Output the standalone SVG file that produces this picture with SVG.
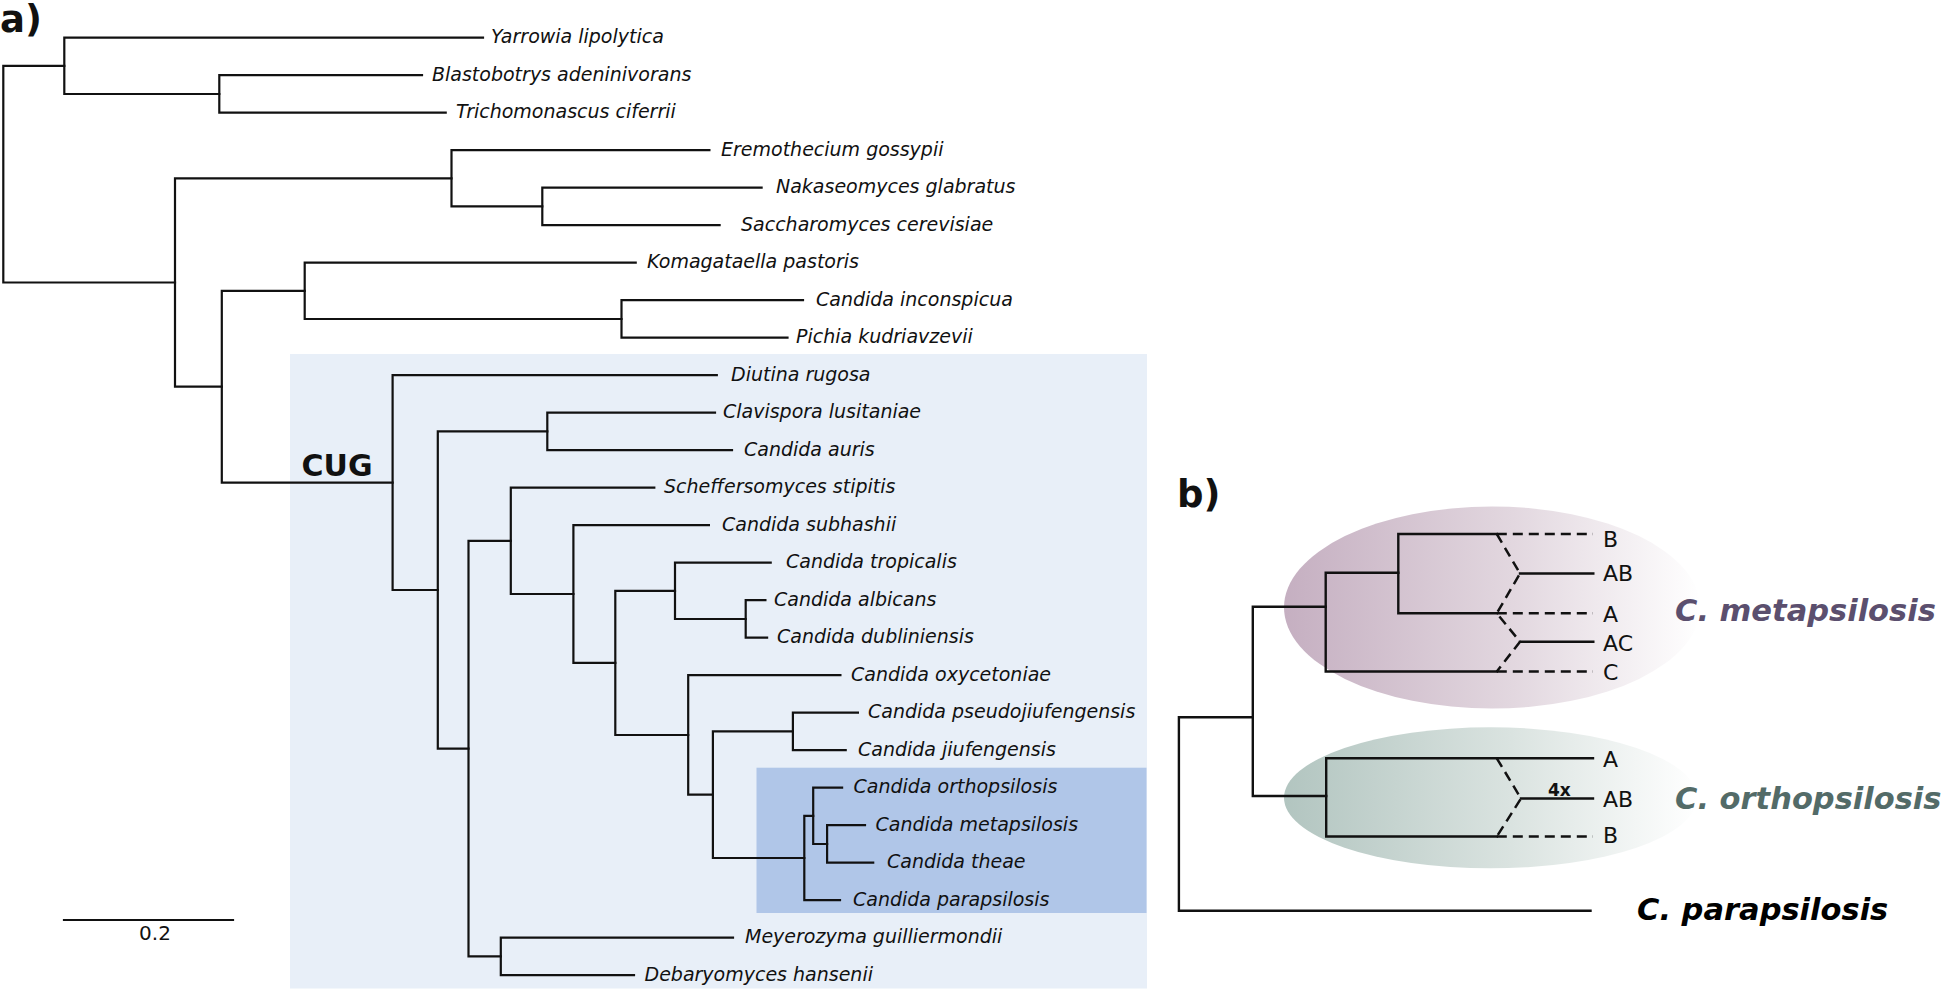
<svg xmlns="http://www.w3.org/2000/svg" width="1944" height="991" viewBox="0 0 1944 991">
<style>
.br{fill:none;stroke:#111;stroke-width:2.2;stroke-linecap:square}
.brb{fill:none;stroke:#111;stroke-width:2.4;stroke-linecap:square}
.dash{fill:none;stroke:#111;stroke-width:2.5;stroke-dasharray:10 6}
.leaf{font-family:"DejaVu Sans",Verdana,sans-serif;font-style:italic;font-size:19px;fill:#111}
.lab{font-family:"DejaVu Sans",Verdana,sans-serif;font-size:22px;fill:#111}
.big{font-family:"DejaVu Sans",Verdana,sans-serif;font-weight:bold;font-style:italic;font-size:30.5px}
.panel{font-family:"DejaVu Sans",Verdana,sans-serif;font-weight:bold;font-size:37px;fill:#111}
</style>
<defs>
<linearGradient id="gMeta" x1="0" y1="0" x2="1" y2="0">
<stop offset="0" stop-color="#C5AFC1"/>
<stop offset="0.55" stop-color="#E2D7DF"/>
<stop offset="1" stop-color="#FFFFFF"/>
</linearGradient>
<linearGradient id="gOrtho" x1="0" y1="0" x2="1" y2="0">
<stop offset="0" stop-color="#B2C5C0"/>
<stop offset="0.55" stop-color="#DAE3E0"/>
<stop offset="1" stop-color="#FFFFFF"/>
</linearGradient>
</defs>
<rect width="1944" height="991" fill="#FFFFFF"/>

<!-- panel a backgrounds -->
<g id="cug-box"><rect x="290" y="354" width="857" height="634.5" fill="#E8EFF8"/></g>
<g id="psilosis-box"><rect x="756.5" y="767.7" width="390" height="145.3" fill="#B0C6E8"/></g>

<text class="panel" x="0" y="32">a)</text>
<text class="panel" x="1177" y="506.7">b)</text>

<!-- panel a connectors -->
<g id="connectors">
<path class="br" d="M3.3 65.8V282.5M3.3 65.8H64.3M3.3 282.5H175"/>
<path class="br" d="M64.3 37.7V94M64.3 37.7H483M64.3 94H219.3"/>
<path class="br" d="M219.3 75.2V112.7M219.3 75.2H422M219.3 112.7H445.7"/>
<path class="br" d="M175 178.3V386.7M175 178.3H451.5M175 386.7H221.8"/>
<path class="br" d="M451.5 150.2V206.4M451.5 150.2H709.4M451.5 206.4H542.3"/>
<path class="br" d="M542.3 187.7V225.2M542.3 187.7H761.6M542.3 225.2H719.6"/>
<path class="br" d="M221.8 290.8V482.6M221.8 290.8H304.7M221.8 482.6H392.6"/>
<path class="br" d="M304.7 262.7V319M304.7 262.7H635.7M304.7 319H621.5"/>
<path class="br" d="M621.5 300.2V337.7M621.5 300.2H803M621.5 337.7H787.5"/>
<path class="br" d="M392.6 375.2V590M392.6 375.2H716.8M392.6 590H437.8"/>
<path class="br" d="M437.8 431.4V748.6M437.8 431.4H547.3M437.8 748.6H468.5"/>
<path class="br" d="M547.3 412.7V450.2M547.3 412.7H715M547.3 450.2H732"/>
<path class="br" d="M468.5 540.9V956.4M468.5 540.9H510.8M468.5 956.4H500.8"/>
<path class="br" d="M510.8 487.7V594M510.8 487.7H654.3M510.8 594H573.4"/>
<path class="br" d="M573.4 525.2V662.9M573.4 525.2H708.9M573.4 662.9H615.3"/>
<path class="br" d="M615.3 590.8V735M615.3 590.8H675M615.3 735H688.2"/>
<path class="br" d="M675 562.7V619M675 562.7H770.7M675 619H745.7"/>
<path class="br" d="M745.7 600.2V637.7M745.7 600.2H765.4M745.7 637.7H767.1"/>
<path class="br" d="M688.2 675.2V794.7M688.2 675.2H840.4M688.2 794.7H712.9"/>
<path class="br" d="M712.9 731.4V858M712.9 731.4H792.9M712.9 858H804.3"/>
<path class="br" d="M792.9 712.7V750.2M792.9 712.7H857.9M792.9 750.2H845.7"/>
<path class="br" d="M804.3 815.9V900.2M804.3 815.9H813.2M804.3 900.2H840"/>
<path class="br" d="M813.2 787.7V844M813.2 787.7H842.1M813.2 844H827.1"/>
<path class="br" d="M827.1 825.2V862.7M827.1 825.2H865M827.1 862.7H873.2"/>
<path class="br" d="M500.8 937.7V975.2M500.8 937.7H733M500.8 975.2H634"/>
<path class="br" d="M64 920H233" stroke-width="2.6"/>
</g>

<!-- panel a leaf labels -->
<g id="leaves">
<text class="leaf" id="n-yarrowia" x="491" y="43">Yarrowia lipolytica</text>
<text class="leaf" id="n-blastobotrys" x="432" y="80.5">Blastobotrys adeninivorans</text>
<text class="leaf" id="n-trichomonascus" x="456" y="118">Trichomonascus ciferrii</text>
<text class="leaf" id="n-eremothecium" x="721" y="155.5">Eremothecium gossypii</text>
<text class="leaf" id="n-nakaseomyces" x="776" y="193">Nakaseomyces glabratus</text>
<text class="leaf" id="n-saccharomyces" x="741" y="230.5">Saccharomyces cerevisiae</text>
<text class="leaf" id="n-komagataella" x="647" y="268">Komagataella pastoris</text>
<text class="leaf" id="n-inconspicua" x="816" y="305.5">Candida inconspicua</text>
<text class="leaf" id="n-pichia" x="796" y="343">Pichia kudriavzevii</text>
<text class="leaf" id="n-diutina" x="731" y="380.5">Diutina rugosa</text>
<text class="leaf" id="n-clavispora" x="723" y="418">Clavispora lusitaniae</text>
<text class="leaf" id="n-auris" x="744" y="455.5">Candida auris</text>
<text class="leaf" id="n-scheffersomyces" x="664" y="493">Scheffersomyces stipitis</text>
<text class="leaf" id="n-subhashii" x="722" y="530.5">Candida subhashii</text>
<text class="leaf" id="n-tropicalis" x="786" y="568">Candida tropicalis</text>
<text class="leaf" id="n-albicans" x="774" y="605.5">Candida albicans</text>
<text class="leaf" id="n-dubliniensis" x="777" y="643">Candida dubliniensis</text>
<text class="leaf" id="n-oxycetoniae" x="851" y="680.5">Candida oxycetoniae</text>
<text class="leaf" id="n-pseudojiufengensis" x="868" y="718">Candida pseudojiufengensis</text>
<text class="leaf" id="n-jiufengensis" x="858" y="755.5">Candida jiufengensis</text>
<text class="leaf" id="n-orthopsilosis" x="853.5" y="793">Candida orthopsilosis</text>
<text class="leaf" id="n-metapsilosis" x="875.5" y="830.5">Candida metapsilosis</text>
<text class="leaf" id="n-theae" x="887" y="868">Candida theae</text>
<text class="leaf" id="n-parapsilosis" x="853" y="905.5">Candida parapsilosis</text>
<text class="leaf" id="n-meyerozyma" x="745" y="943">Meyerozyma guilliermondii</text>
<text class="leaf" id="n-debaryomyces" x="644.5" y="980.5">Debaryomyces hansenii</text>
</g>
<g id="cug-label"><text x="301.5" y="475.7" font-family="DejaVu Sans, Verdana, sans-serif" font-weight="bold" font-size="30" fill="#111">CUG</text></g>
<g id="scale-label"><text x="155" y="940" text-anchor="middle" font-family="DejaVu Sans, Verdana, sans-serif" font-size="20" fill="#111">0.2</text></g>

<!-- panel b -->
<g id="meta-ellipse"><ellipse cx="1492" cy="607.5" rx="208" ry="101" fill="url(#gMeta)"/></g>
<g id="ortho-ellipse"><ellipse cx="1490.5" cy="797.8" rx="206.5" ry="70.5" fill="url(#gOrtho)"/></g>

<g id="connectors-b">
<path class="brb" d="M1178.9 717.3V910.7M1178.9 717.3H1252.8M1178.9 910.7H1590.5"/>
<path class="brb" d="M1252.8 606.7V796M1252.8 606.7H1325.7M1252.8 796H1326.2"/>
<path class="brb" d="M1325.7 572.7V671.5M1325.7 572.7H1398.3M1325.7 671.5H1496.8"/>
<path class="brb" d="M1398.3 534V613.3M1398.3 534H1496.8M1398.3 613.3H1496.8"/>
<path class="brb" d="M1520 573.5H1593.3M1520 641.7H1593.3"/>
<path class="dash" d="M1496.8 534H1593M1496.8 613.3H1593M1496.8 671.5H1593"/>
<path class="dash" d="M1496.8 534L1520 573.5L1496.8 613.3L1520 641.7L1496.8 671.5"/>
<path class="brb" d="M1326.2 758.3V836.5M1326.2 758.3H1593M1326.2 836.5H1496.8M1521 798.5H1593"/>
<path class="dash" d="M1496.8 836.5H1593"/>
<path class="dash" d="M1496.8 758.3L1521 798.5L1496.8 836.5"/>
</g>

<g id="meta-labels">
<text class="lab" x="1603" y="547">B</text>
<text class="lab" x="1603" y="581">AB</text>
<text class="lab" x="1603" y="622">A</text>
<text class="lab" x="1603" y="651">AC</text>
<text class="lab" x="1603" y="680">C</text>
</g>
<g id="ortho-labels">
<text class="lab" x="1603" y="767">A</text>
<text class="lab" x="1603" y="807">AB</text>
<text class="lab" x="1603" y="843">B</text>
<text x="1548" y="796" font-family="DejaVu Sans, Verdana, sans-serif" font-weight="bold" font-size="17" fill="#111">4x</text>
</g>
<g id="species-b">
<text class="big" id="n-cmeta" x="1675" y="620.5" fill="#5B4F6E">C. metapsilosis</text>
<text class="big" id="n-cortho" x="1675" y="809" fill="#536B68">C. orthopsilosis</text>
<text class="big" id="n-cpara" x="1637" y="920" fill="#000000">C. parapsilosis</text>
</g>
</svg>
